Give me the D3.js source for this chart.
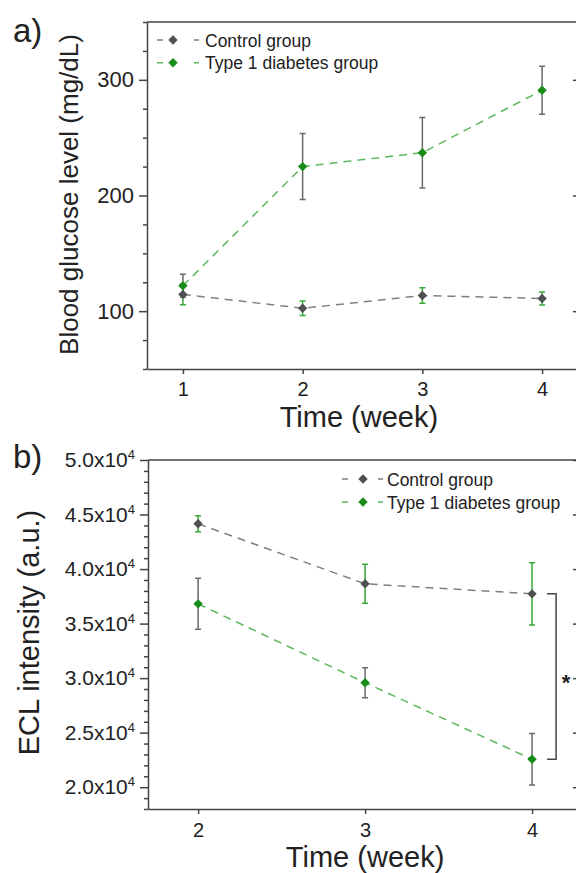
<!DOCTYPE html>
<html>
<head>
<meta charset="utf-8">
<script src="https://cdn.jsdelivr.net/npm/d3@7"></script>
<style>
  body { margin: 0; background: #fff; }
  svg text { font-family: "Liberation Sans", Arial, sans-serif; fill: #222; }
</style>
</head>
<body>
<script>
// a) blood glucose, mg/dL
const weeksA = [1, 2, 3, 4];
const controlA = [114.5, 102.5, 113.5, 111];
const controlErrA = [9, 6.3, 6.7, 5.6];
const diabetesA = [122, 225, 237, 291];
const diabetesErrA = [10, 28.5, 30.5, 20.7];
const yTicksA = [100, 200, 300];

// b) ECL intensity, a.u.
const weeksB = [2, 3, 4];
const controlB = [44150, 38650, 37730];
const controlErrB = [730, 1780, 2850];
const diabetesB = [36810, 29580, 22560];
const diabetesErrB = [2340, 1380, 2370];
const yTicksB = [20000, 25000, 30000, 35000, 40000, 45000, 50000];

const seriesNames = ["Control group", "Type 1 diabetes group"];

const width = 576,
    height = 873;

const axisColor = "#444",
    grayLine = "#808080",
    greenLine = "#5cb85c",
    grayMark = "#505050",
    greenMark = "#178c17",
    greenBar = "#38a838",
    grayBar = "#6a6a6a";

const svg = d3.select("body").append("svg")
    .attr("width", width)
    .attr("height", height);

function styleAxis(sel, fontSize) {
    sel.select(".domain").attr("stroke", axisColor).attr("stroke-width", 1.5);
    sel.selectAll(".tick line").attr("stroke", axisColor).attr("stroke-width", 1.5);
    sel.selectAll(".tick text").style("font-size", fontSize + "px").style("fill", "#222");
}

function drawPanel(p) {
    const x = d3.scaleLinear().domain(p.xDomain).range([p.left, p.right]);
    const y = d3.scaleLinear().domain(p.yDomain).range([p.bottom, p.top]);
    const g = svg.append("g");

    // top and right frame
    g.append("path")
        .attr("d", `M${p.left},${p.top}H${p.right}V${p.bottom}`)
        .attr("fill", "none")
        .attr("stroke", axisColor)
        .attr("stroke-width", 1.5);

    // minor ticks on the left
    g.append("g")
        .attr("transform", `translate(${p.left},0)`)
        .call(d3.axisLeft(y).tickValues(p.yMinor).tickSize(4).tickSizeOuter(0).tickFormat(""))
        .call(s => { s.select(".domain").remove(); styleAxis(s, 10); });

    const yAxis = g.append("g")
        .attr("transform", `translate(${p.left},0)`)
        .call(d3.axisLeft(y).tickValues(p.yTicks).tickSize(8).tickSizeOuter(0)
            .tickPadding(p.yPad).tickFormat(p.yFormat))
        .call(s => styleAxis(s, p.yFont));

    if (p.sup) {
        yAxis.selectAll(".tick text").append("tspan")
            .attr("dy", "-0.62em")
            .style("font-size", "13px")
            .text(p.sup);
    }

    // inward ticks on the right
    g.append("g")
        .attr("transform", `translate(${p.right},0)`)
        .call(d3.axisRight(y).tickValues(p.yTicks).tickSize(-5).tickSizeOuter(0).tickFormat(""))
        .call(s => { s.select(".domain").remove(); styleAxis(s, 10); });

    g.append("g")
        .attr("transform", `translate(0,${p.bottom})`)
        .call(d3.axisBottom(x).tickValues(p.weeks).tickSize(5).tickSizeOuter(0)
            .tickPadding(p.xPad).tickFormat(d3.format("d")))
        .call(s => styleAxis(s, 20));

    const series = [
        { values: p.control, errors: p.controlErr, line: grayLine, mark: grayMark, bar: greenBar },
        { values: p.diabetes, errors: p.diabetesErr, line: greenLine, mark: greenMark, bar: grayBar }
    ];

    const line = d3.line().x(d => x(d.w)).y(d => y(d.v));

    series.forEach(s => {
        s.pts = p.weeks.map((w, i) => ({ w: w, v: s.values[i], e: s.errors[i] }));
        g.append("path")
            .datum(s.pts)
            .attr("d", line)
            .attr("fill", "none")
            .attr("stroke", s.line)
            .attr("stroke-width", 1.5)
            .attr("stroke-dasharray", "8,6");
    });

    // error bars
    series.forEach(s => {
        const eb = g.append("g")
            .attr("stroke", s.bar)
            .attr("stroke-width", 1.5);
        s.pts.forEach(d => {
            const cx = x(d.w), y0 = y(d.v - d.e), y1 = y(d.v + d.e);
            eb.append("path").attr("d", `M${cx},${y0}V${y1}M${cx - 3},${y0}H${cx + 3}M${cx - 3},${y1}H${cx + 3}`);
        });
    });

    const diamond = d3.symbol().type(d3.symbolSquare).size(44);

    series.forEach(s => {
        g.selectAll(null)
            .data(s.pts)
            .enter().append("path")
            .attr("d", diamond)
            .attr("transform", d => `translate(${x(d.w)},${y(d.v)}) rotate(45)`)
            .attr("fill", s.mark);
    });

    // legend
    series.forEach((s, i) => {
        const ly = p.legend.y + i * p.legend.dy;
        const lg = g.append("g");
        lg.append("path")
            .attr("d", `M${p.legend.x0},${ly}h6M${p.legend.x1},${ly}h5`)
            .attr("stroke", s.line)
            .attr("stroke-width", 1.5);
        lg.append("path")
            .attr("d", diamond)
            .attr("transform", `translate(${p.legend.xm},${ly}) rotate(45)`)
            .attr("fill", s.mark);
        lg.append("text")
            .attr("x", p.legend.xt)
            .attr("y", ly + 6.5)
            .style("font-size", "17.5px")
            .text(seriesNames[i]);
    });

    // titles
    svg.append("text")
        .attr("x", 13)
        .attr("y", p.top + p.letterDy)
        .style("font-size", "33px")
        .text(p.letter);

    svg.append("text")
        .attr("transform", `translate(${p.yTitleX},${(p.top + p.bottom) / 2 + p.yTitleDy}) rotate(-90)`)
        .attr("text-anchor", "middle")
        .style("font-size", p.yTitleFont + "px")
        .text(p.yTitle);

    svg.append("text")
        .attr("x", x(p.xTitleAt))
        .attr("y", p.bottom + 58)
        .attr("text-anchor", "middle")
        .style("font-size", "29px")
        .text("Time (week)");

    return { x: x, y: y, g: g };
}

drawPanel({
    left: 147, right: 578, top: 22, bottom: 369,
    xDomain: [0.7, 4.3], yDomain: [50, 350],
    weeks: weeksA, yTicks: yTicksA,
    yMinor: d3.range(50, 351, 25).filter(v => !yTicksA.includes(v)),
    yFormat: d3.format("d"), yFont: 22, yPad: 5, xPad: 8,
    control: controlA, controlErr: controlErrA,
    diabetes: diabetesA, diabetesErr: diabetesErrA,
    legend: { y: 40, dy: 22.7, x0: 157, xm: 173, x1: 194, xt: 205 },
    letter: "a)", letterDy: 20,
    yTitle: "Blood glucose level (mg/dL)", yTitleX: 78, yTitleDy: -1, yTitleFont: 26,
    xTitleAt: 2.47
});

const panelB = drawPanel({
    left: 148, right: 578, top: 460, bottom: 809,
    xDomain: [1.7, 4.275], yDomain: [18000, 50000],
    weeks: weeksB, yTicks: yTicksB,
    yMinor: d3.range(18000, 50001, 1000).filter(v => !yTicksB.includes(v)),
    yFormat: d => (d / 1e4).toFixed(1) + "x10", sup: "4", yFont: 21, yPad: 5, xPad: 9,
    control: controlB, controlErr: controlErrB,
    diabetes: diabetesB, diabetesErr: diabetesErrB,
    legend: { y: 479, dy: 23, x0: 342, xm: 363, x1: 378, xt: 387 },
    letter: "b)", letterDy: 8,
    yTitle: "ECL intensity (a.u.)", yTitleX: 39, yTitleDy: -2, yTitleFont: 29,
    xTitleAt: 3
});

// significance bracket between week-4 groups
const bx = panelB.x(4) + 24,
    byTop = panelB.y(controlB[2]),
    byBot = panelB.y(diabetesB[2]);

panelB.g.append("path")
    .attr("d", `M${bx - 9},${byTop}H${bx}V${byBot}H${bx - 9}`)
    .attr("fill", "none")
    .attr("stroke", axisColor)
    .attr("stroke-width", 1.5);

panelB.g.append("text")
    .attr("x", bx + 10)
    .attr("y", (byTop + byBot) / 2 + 13)
    .attr("text-anchor", "middle")
    .style("font-size", "22px")
    .style("font-weight", "bold")
    .text("*");
</script>
</body>
</html>
